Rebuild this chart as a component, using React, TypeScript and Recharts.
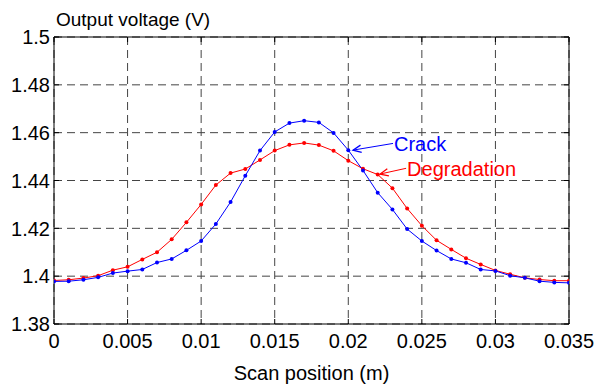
import { LineChart, Line, XAxis, YAxis, CartesianGrid, ReferenceLine, Label } from 'recharts';

const positions = [
  0, 0.001, 0.002, 0.003, 0.004, 0.005, 0.006, 0.007, 0.008, 0.009, 0.01, 0.011,
  0.012, 0.013, 0.014, 0.015, 0.016, 0.017, 0.018, 0.019, 0.02, 0.021, 0.022, 0.023,
  0.024, 0.025, 0.026, 0.027, 0.028, 0.029, 0.03, 0.031, 0.032, 0.033, 0.034, 0.035,
];

const crack = [
  1.3978, 1.3979, 1.3985, 1.3995, 1.4013, 1.4021, 1.4028, 1.4057, 1.4072, 1.4108, 1.4147, 1.4218,
  1.431, 1.442, 1.4525, 1.4603, 1.464, 1.465, 1.4643, 1.4599, 1.4527, 1.4442, 1.4349, 1.4279,
  1.4197, 1.4147, 1.4107, 1.4072, 1.4056, 1.4028, 1.4022, 1.4002, 1.3993, 1.3979, 1.3974, 1.3972,
];

const degradation = [
  1.3982, 1.3985, 1.3992, 1.4002, 1.4025, 1.4039, 1.407, 1.41, 1.4154, 1.4225, 1.43, 1.4381,
  1.4431, 1.4448, 1.4486, 1.4525, 1.4549, 1.4557, 1.4548, 1.4524, 1.4483, 1.4449, 1.4425, 1.4368,
  1.4283, 1.4211, 1.415, 1.4112, 1.4075, 1.4049, 1.4024, 1.4008, 1.3993, 1.3986, 1.3981, 1.3981,
];

const xTicks = [0, 0.005, 0.01, 0.015, 0.02, 0.025, 0.03, 0.035];
const xTickLabels = ['0', '0.005', '0.01', '0.015', '0.02', '0.025', '0.03', '0.035'];
const yTicks = [1.38, 1.4, 1.42, 1.44, 1.46, 1.48, 1.5];
const yTickLabels = ['1.38', '1.4', '1.42', '1.44', '1.46', '1.48', '1.5'];

// annotation arrows (data units): tail, head
const crackNote = { from: [0.02304, 1.4555], to: [0.02032, 1.4527] };
const degradationNote = { from: [0.02393, 1.4451], to: [0.02216, 1.4427] };

const data = positions.map((x, i) => ({ x, crack: crack[i], degradation: degradation[i] }));

const FONT = 'Liberation Sans, Arial, sans-serif';
const BLUE = '#0000ff';
const RED = '#ff0000';

const BottomTick = ({ x, y, payload }: any) => {
  const i = xTicks.findIndex((t) => Math.abs(t - payload.value) < 1e-9);
  return (
    <g>
      <line x1={x} y1={y} x2={x} y2={y - 5} stroke="#000" />
      <text x={x} y={y + 24} textAnchor="middle" fontSize={20} fontFamily={FONT} fill="#000">
        {xTickLabels[i]}
      </text>
    </g>
  );
};

const TopTick = ({ x, y }: any) => <line x1={x} y1={y} x2={x} y2={y + 5} stroke="#000" />;

const LeftTick = ({ x, y, payload }: any) => {
  const i = yTicks.findIndex((t) => Math.abs(t - payload.value) < 1e-9);
  return (
    <g>
      <line x1={x} y1={y} x2={x + 5} y2={y} stroke="#000" />
      <text x={x - 4} y={y} dy="0.36em" textAnchor="end" fontSize={20} fontFamily={FONT} fill="#000">
        {yTickLabels[i]}
      </text>
    </g>
  );
};

const RightTick = ({ x, y }: any) => <line x1={x} y1={y} x2={x - 5} y2={y} stroke="#000" />;

function arrowShape(color: string, label: string) {
  return (props: any) => {
    const { x1, y1, x2, y2 } = props;
    const ang = Math.atan2(y2 - y1, x2 - x1);
    const len = 9;
    const spread = 0.42;
    const ax = x2 - len * Math.cos(ang - spread);
    const ay = y2 - len * Math.sin(ang - spread);
    const bx = x2 - len * Math.cos(ang + spread);
    const by = y2 - len * Math.sin(ang + spread);
    return (
      <g>
        <line x1={x1} y1={y1} x2={x2} y2={y2} stroke={color} strokeWidth={1} />
        <polyline points={`${ax},${ay} ${x2},${y2} ${bx},${by}`} fill="none" stroke={color} strokeWidth={1.3} />
        <text x={x1 + 1} y={y1 + 7.5} fontSize={20} fontFamily={FONT} fill={color}>
          {label}
        </text>
      </g>
    );
  };
}

export default function App() {
  return (
    <div style={{ position: 'fixed', left: 0, top: 0, width: 603, height: 385, background: '#fff' }}>
      <LineChart width={603} height={385} data={data} margin={{ top: 0, right: 0, bottom: 0, left: 0 }}>
        <CartesianGrid stroke="#444" strokeDasharray="8 5" />
        <XAxis
          dataKey="x"
          type="number"
          domain={[0, 0.035]}
          ticks={xTicks}
          height={61}
          tickSize={0}
          tickMargin={0}
          tickLine={false}
          axisLine={{ stroke: '#000' }}
          tick={<BottomTick />}
          interval={0}
          allowDataOverflow
        >
          <Label value="Scan position (m)" position="insideBottom" offset={5} fontSize={20} fontFamily={FONT} fill="#000" />
        </XAxis>
        <XAxis
          xAxisId="top"
          orientation="top"
          dataKey="x"
          type="number"
          domain={[0, 0.035]}
          ticks={xTicks}
          height={37}
          tickSize={0}
          tickMargin={0}
          tickLine={false}
          axisLine={{ stroke: '#000' }}
          tick={<TopTick />}
          interval={0}
          allowDataOverflow
        />
        <YAxis
          type="number"
          domain={[1.38, 1.5]}
          ticks={yTicks}
          width={54}
          tickSize={0}
          tickMargin={0}
          tickLine={false}
          axisLine={{ stroke: '#000' }}
          tick={<LeftTick />}
          interval={0}
          allowDataOverflow
        />
        <YAxis
          yAxisId="right"
          orientation="right"
          type="number"
          domain={[1.38, 1.5]}
          ticks={yTicks}
          width={34}
          tickSize={0}
          tickMargin={0}
          tickLine={false}
          axisLine={{ stroke: '#000' }}
          tick={<RightTick />}
          interval={0}
          allowDataOverflow
        />
        <Line
          dataKey="degradation"
          stroke={RED}
          strokeWidth={1}
          dot={{ r: 2, fill: RED, stroke: RED, strokeWidth: 0 }}
          isAnimationActive={false}
        />
        <Line
          dataKey="crack"
          stroke={BLUE}
          strokeWidth={1}
          dot={{ r: 2, fill: BLUE, stroke: BLUE, strokeWidth: 0 }}
          isAnimationActive={false}
        />
        <ReferenceLine
          segment={[
            { x: crackNote.from[0], y: crackNote.from[1] },
            { x: crackNote.to[0], y: crackNote.to[1] },
          ]}
          shape={arrowShape(BLUE, 'Crack')}
        />
        <ReferenceLine
          segment={[
            { x: degradationNote.from[0], y: degradationNote.from[1] },
            { x: degradationNote.to[0], y: degradationNote.to[1] },
          ]}
          shape={arrowShape(RED, 'Degradation')}
        />
      </LineChart>
      <div
        style={{
          position: 'absolute',
          left: 56,
          top: 10,
          fontFamily: FONT,
          fontSize: 19,
          lineHeight: '20px',
          color: '#000',
          whiteSpace: 'nowrap',
        }}
      >
        Output voltage (V)
      </div>
    </div>
  );
}
